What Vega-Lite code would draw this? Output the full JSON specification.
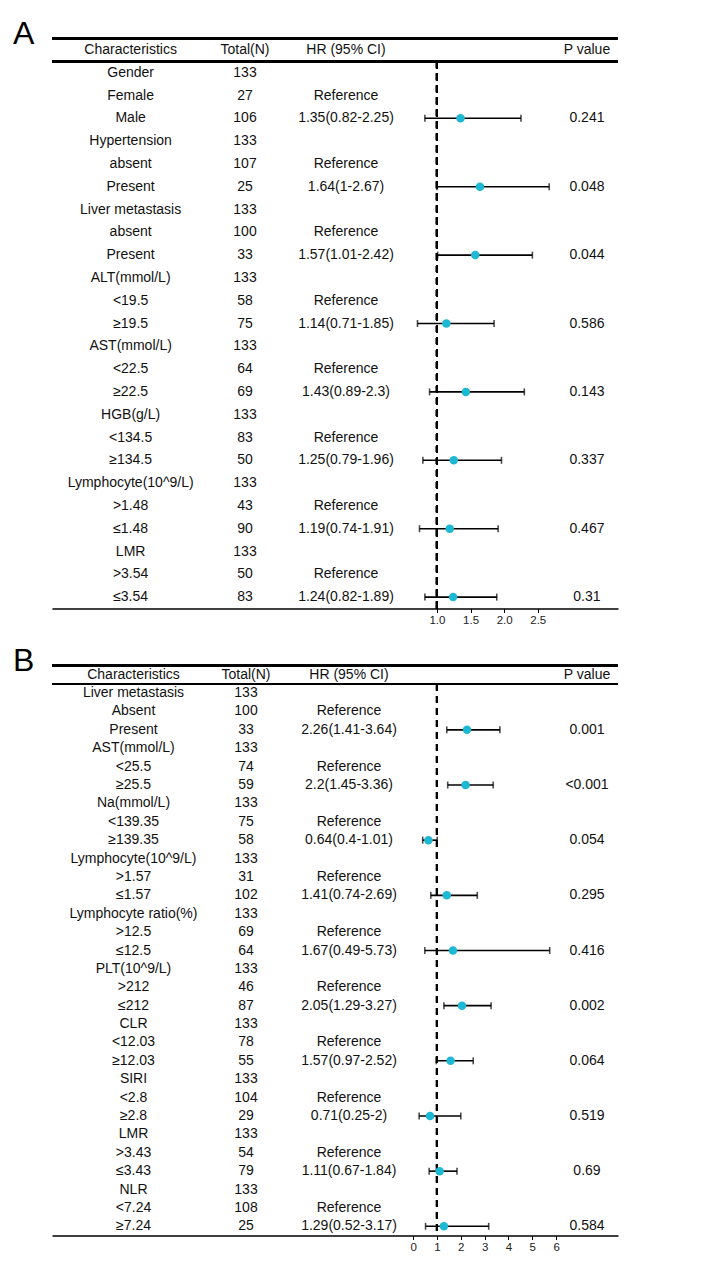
{
  "$schema": "https://vega.github.io/schema/vega-lite/v6.json",
  "background": "white",
  "padding": {"left": 13, "top": 17.5, "right": 5, "bottom": 5},
  "config": {
    "view": {"stroke": null},
    "font": "Liberation Sans",
    "text": {"font": "Liberation Sans", "fontSize": 14, "color": "#111"},
    "axis": {"labelFont": "Liberation Sans", "labelFontSize": 11.5, "labelColor": "#222", "tickColor": "#000", "tickSize": 4, "tickWidth": 1, "domainColor": "#000", "domainWidth": 1.5, "labelPadding": 2, "grid": false, "title": null},
    "title": {"font": "Liberation Sans", "fontSize": 32, "fontWeight": "normal", "anchor": "start", "color": "#000"}
  },
  "datasets": {
    "A": [
      {"row": 0, "c": "Characteristics", "n": "Total(N)", "hr": "HR (95% CI)", "p": "P value"},
      {"row": 1, "c": "Gender", "n": "133"},
      {"row": 2, "c": "Female", "n": "27", "hr": "Reference"},
      {"row": 3, "c": "Male", "n": "106", "hr": "1.35(0.82-2.25)", "p": "0.241", "est": 1.35, "lo": 0.82, "hi": 2.25},
      {"row": 4, "c": "Hypertension", "n": "133"},
      {"row": 5, "c": "absent", "n": "107", "hr": "Reference"},
      {"row": 6, "c": "Present", "n": "25", "hr": "1.64(1-2.67)", "p": "0.048", "est": 1.64, "lo": 1.0, "hi": 2.67},
      {"row": 7, "c": "Liver metastasis", "n": "133"},
      {"row": 8, "c": "absent", "n": "100", "hr": "Reference"},
      {"row": 9, "c": "Present", "n": "33", "hr": "1.57(1.01-2.42)", "p": "0.044", "est": 1.57, "lo": 1.01, "hi": 2.42},
      {"row": 10, "c": "ALT(mmol/L)", "n": "133"},
      {"row": 11, "c": "<19.5", "n": "58", "hr": "Reference"},
      {"row": 12, "c": "≥19.5", "n": "75", "hr": "1.14(0.71-1.85)", "p": "0.586", "est": 1.14, "lo": 0.71, "hi": 1.85},
      {"row": 13, "c": "AST(mmol/L)", "n": "133"},
      {"row": 14, "c": "<22.5", "n": "64", "hr": "Reference"},
      {"row": 15, "c": "≥22.5", "n": "69", "hr": "1.43(0.89-2.3)", "p": "0.143", "est": 1.43, "lo": 0.89, "hi": 2.3},
      {"row": 16, "c": "HGB(g/L)", "n": "133"},
      {"row": 17, "c": "<134.5", "n": "83", "hr": "Reference"},
      {"row": 18, "c": "≥134.5", "n": "50", "hr": "1.25(0.79-1.96)", "p": "0.337", "est": 1.25, "lo": 0.79, "hi": 1.96},
      {"row": 19, "c": "Lymphocyte(10^9/L)", "n": "133"},
      {"row": 20, "c": ">1.48", "n": "43", "hr": "Reference"},
      {"row": 21, "c": "≤1.48", "n": "90", "hr": "1.19(0.74-1.91)", "p": "0.467", "est": 1.19, "lo": 0.74, "hi": 1.91},
      {"row": 22, "c": "LMR", "n": "133"},
      {"row": 23, "c": ">3.54", "n": "50", "hr": "Reference"},
      {"row": 24, "c": "≤3.54", "n": "83", "hr": "1.24(0.82-1.89)", "p": "0.31", "est": 1.24, "lo": 0.82, "hi": 1.89}
    ],
    "B": [
      {"row": 0, "c": "Characteristics", "n": "Total(N)", "hr": "HR (95% CI)", "p": "P value"},
      {"row": 1, "c": "Liver metastasis", "n": "133"},
      {"row": 2, "c": "Absent", "n": "100", "hr": "Reference"},
      {"row": 3, "c": "Present", "n": "33", "hr": "2.26(1.41-3.64)", "p": "0.001", "est": 2.26, "lo": 1.41, "hi": 3.64},
      {"row": 4, "c": "AST(mmol/L)", "n": "133"},
      {"row": 5, "c": "<25.5", "n": "74", "hr": "Reference"},
      {"row": 6, "c": "≥25.5", "n": "59", "hr": "2.2(1.45-3.36)", "p": "<0.001", "est": 2.2, "lo": 1.45, "hi": 3.36},
      {"row": 7, "c": "Na(mmol/L)", "n": "133"},
      {"row": 8, "c": "<139.35", "n": "75", "hr": "Reference"},
      {"row": 9, "c": "≥139.35", "n": "58", "hr": "0.64(0.4-1.01)", "p": "0.054", "est": 0.64, "lo": 0.4, "hi": 1.01},
      {"row": 10, "c": "Lymphocyte(10^9/L)", "n": "133"},
      {"row": 11, "c": ">1.57", "n": "31", "hr": "Reference"},
      {"row": 12, "c": "≤1.57", "n": "102", "hr": "1.41(0.74-2.69)", "p": "0.295", "est": 1.41, "lo": 0.74, "hi": 2.69},
      {"row": 13, "c": "Lymphocyte ratio(%)", "n": "133"},
      {"row": 14, "c": ">12.5", "n": "69", "hr": "Reference"},
      {"row": 15, "c": "≤12.5", "n": "64", "hr": "1.67(0.49-5.73)", "p": "0.416", "est": 1.67, "lo": 0.49, "hi": 5.73},
      {"row": 16, "c": "PLT(10^9/L)", "n": "133"},
      {"row": 17, "c": ">212", "n": "46", "hr": "Reference"},
      {"row": 18, "c": "≤212", "n": "87", "hr": "2.05(1.29-3.27)", "p": "0.002", "est": 2.05, "lo": 1.29, "hi": 3.27},
      {"row": 19, "c": "CLR", "n": "133"},
      {"row": 20, "c": "<12.03", "n": "78", "hr": "Reference"},
      {"row": 21, "c": "≥12.03", "n": "55", "hr": "1.57(0.97-2.52)", "p": "0.064", "est": 1.57, "lo": 0.97, "hi": 2.52},
      {"row": 22, "c": "SIRI", "n": "133"},
      {"row": 23, "c": "<2.8", "n": "104", "hr": "Reference"},
      {"row": 24, "c": "≥2.8", "n": "29", "hr": "0.71(0.25-2)", "p": "0.519", "est": 0.71, "lo": 0.25, "hi": 2.0},
      {"row": 25, "c": "LMR", "n": "133"},
      {"row": 26, "c": ">3.43", "n": "54", "hr": "Reference"},
      {"row": 27, "c": "≤3.43", "n": "79", "hr": "1.11(0.67-1.84)", "p": "0.69", "est": 1.11, "lo": 0.67, "hi": 1.84},
      {"row": 28, "c": "NLR", "n": "133"},
      {"row": 29, "c": "<7.24", "n": "108", "hr": "Reference"},
      {"row": 30, "c": "≥7.24", "n": "25", "hr": "1.29(0.52-3.17)", "p": "0.584", "est": 1.29, "lo": 0.52, "hi": 3.17}
    ]
  },
  "spacing": 18,
  "vconcat": [
    {
      "title": {"text": "A", "dx": -38, "dy": 35, "offset": -3, "baseline": "alphabetic"},
      "width": 566,
      "height": 570,
      "data": {"name": "A"},
      "encoding": {
        "y": {"field": "row", "type": "quantitative", "scale": {"domain": [-0.5, 24.5], "reverse": true, "nice": false, "zero": false}, "axis": null}
      },
      "layer": [
        {"mark": {"type": "rule", "stroke": "#000", "strokeWidth": 1.5}, "encoding": {"y": {"datum": -0.5}}},
        {"mark": {"type": "rule", "stroke": "#000", "strokeWidth": 2}, "encoding": {"y": {"datum": 0.5}}},
        {"mark": {"type": "rule", "stroke": "#000", "strokeWidth": 2, "strokeDash": [7, 5]}, "encoding": {"x": {"datum": 1}, "y": {"datum": 0.5}, "y2": {"datum": 24.5}}},
        {"transform": [{"filter": "isValid(datum.c)"}], "mark": {"type": "text", "align": "center", "baseline": "middle"}, "encoding": {"text": {"field": "c"}, "x": {"datum": -3.559}}},
        {"transform": [{"filter": "isValid(datum.n)"}], "mark": {"type": "text", "align": "center", "baseline": "middle"}, "encoding": {"text": {"field": "n"}, "x": {"datum": -1.857}}},
        {"transform": [{"filter": "isValid(datum.hr)"}], "mark": {"type": "text", "align": "center", "baseline": "middle"}, "encoding": {"text": {"field": "hr"}, "x": {"datum": -0.354}}},
        {"transform": [{"filter": "isValid(datum.p)"}], "mark": {"type": "text", "align": "center", "baseline": "middle"}, "encoding": {"text": {"field": "p"}, "x": {"datum": 3.232}}},
        {"transform": [{"filter": "isValid(datum.est)"}], "mark": {"type": "rule", "stroke": "#000", "strokeWidth": 1.6}, "encoding": {"x": {"field": "lo", "type": "quantitative"}, "x2": {"field": "hi"}}},
        {"transform": [{"filter": "isValid(datum.est)"}], "mark": {"type": "tick", "orient": "vertical", "color": "#000", "size": 7, "thickness": 1.6}, "encoding": {"x": {"field": "lo", "type": "quantitative"}}},
        {"transform": [{"filter": "isValid(datum.est)"}], "mark": {"type": "tick", "orient": "vertical", "color": "#000", "size": 7, "thickness": 1.6}, "encoding": {"x": {"field": "hi", "type": "quantitative"}}},
        {"transform": [{"filter": "isValid(datum.est)"}], "mark": {"type": "point", "filled": true, "color": "#1DB8D4", "opacity": 1, "size": 72}, "encoding": {
          "x": {"field": "est", "type": "quantitative", "scale": {"domain": [-4.729, 3.694], "nice": false, "zero": false}, "axis": {"values": [1, 1.5, 2, 2.5], "format": ".1f"}}
        }}
      ]
    },
    {
      "title": {"text": "B", "dx": -38, "dy": 35, "offset": -3, "baseline": "alphabetic"},
      "width": 566,
      "height": 570,
      "data": {"name": "B"},
      "encoding": {
        "y": {"field": "row", "type": "quantitative", "scale": {"domain": [-0.5, 30.5], "reverse": true, "nice": false, "zero": false}, "axis": null}
      },
      "layer": [
        {"mark": {"type": "rule", "stroke": "#000", "strokeWidth": 1.5}, "encoding": {"y": {"datum": -0.5}}},
        {"mark": {"type": "rule", "stroke": "#000", "strokeWidth": 2}, "encoding": {"y": {"datum": 0.5}}},
        {"mark": {"type": "rule", "stroke": "#000", "strokeWidth": 2, "strokeDash": [7, 5]}, "encoding": {"x": {"datum": 1}, "y": {"datum": 0.5}, "y2": {"datum": 30.5}}},
        {"transform": [{"filter": "isValid(datum.c)"}], "mark": {"type": "text", "align": "center", "baseline": "middle"}, "encoding": {"text": {"field": "c"}, "x": {"datum": -11.736}}},
        {"transform": [{"filter": "isValid(datum.n)"}], "mark": {"type": "text", "align": "center", "baseline": "middle"}, "encoding": {"text": {"field": "n"}, "x": {"datum": -7.015}}},
        {"transform": [{"filter": "isValid(datum.hr)"}], "mark": {"type": "text", "align": "center", "baseline": "middle"}, "encoding": {"text": {"field": "hr"}, "x": {"datum": -2.693}}},
        {"transform": [{"filter": "isValid(datum.p)"}], "mark": {"type": "text", "align": "center", "baseline": "middle"}, "encoding": {"text": {"field": "p"}, "x": {"datum": 7.295}}},
        {"transform": [{"filter": "isValid(datum.est)"}], "mark": {"type": "rule", "stroke": "#000", "strokeWidth": 1.6}, "encoding": {"x": {"field": "lo", "type": "quantitative"}, "x2": {"field": "hi"}}},
        {"transform": [{"filter": "isValid(datum.est)"}], "mark": {"type": "tick", "orient": "vertical", "color": "#000", "size": 7, "thickness": 1.6}, "encoding": {"x": {"field": "lo", "type": "quantitative"}}},
        {"transform": [{"filter": "isValid(datum.est)"}], "mark": {"type": "tick", "orient": "vertical", "color": "#000", "size": 7, "thickness": 1.6}, "encoding": {"x": {"field": "hi", "type": "quantitative"}}},
        {"transform": [{"filter": "isValid(datum.est)"}], "mark": {"type": "point", "filled": true, "color": "#1DB8D4", "opacity": 1, "size": 72}, "encoding": {
          "x": {"field": "est", "type": "quantitative", "scale": {"domain": [-15.156, 8.596], "nice": false, "zero": false}, "axis": {"values": [0, 1, 2, 3, 4, 5, 6], "format": "d"}}
        }}
      ]
    }
  ]
}
